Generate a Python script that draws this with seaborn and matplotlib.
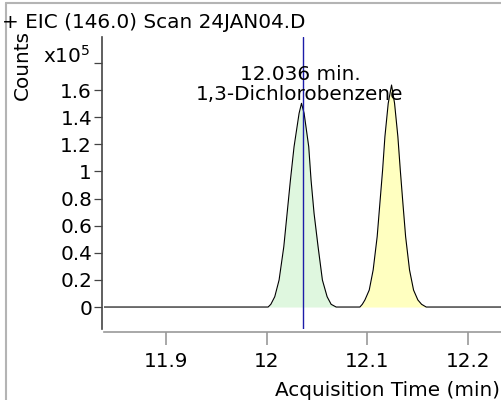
import numpy as np
import pandas as pd
import matplotlib
matplotlib.use('Agg')
import matplotlib.pyplot as plt
from matplotlib.lines import Line2D
import seaborn as sns

# Chromatogram trace (time in min, counts in x10^5)
green_time = [11.991, 12.0013, 12.004, 12.0079, 12.0122, 12.0169, 12.0202, 12.0235, 12.0271,
              12.0321, 12.0345, 12.0371, 12.0417, 12.0440, 12.0470, 12.0510, 12.0553,
              12.0600, 12.0640, 12.069, 12.080]
green_counts = [0, 0, 0.02, 0.076, 0.199, 0.445, 0.691, 0.937, 1.182,
                1.428, 1.502, 1.428, 1.182, 0.937, 0.691, 0.445, 0.199,
                0.076, 0.02, 0, 0]

yellow_time = [12.085, 12.0926, 12.095, 12.0976, 12.1019, 12.1058, 12.1098, 12.1125, 12.1152,
               12.1175, 12.1208, 12.1241, 12.1271, 12.1304, 12.1328, 12.1354, 12.1381,
               12.1420, 12.1460, 12.1503, 12.154, 12.1586, 12.169]
yellow_counts = [0, 0, 0.02, 0.052, 0.125, 0.273, 0.519, 0.765, 1.010,
                 1.256, 1.502, 1.637, 1.502, 1.256, 1.010, 0.765, 0.519,
                 0.273, 0.125, 0.052, 0.02, 0, 0]

trace_start = 11.838
trace_end = 12.234

marker_time = 12.036
label_time = "12.036 min."
compound = "1,3-Dichlorobenzene"

y_ticks = [0, 0.2, 0.4, 0.6, 0.8, 1.0, 1.2, 1.4, 1.6, 1.8]
y_labels = ['0', '0.2', '0.4', '0.6', '0.8', '1', '1.2', '1.4', '1.6', '']
x_ticks = [11.9, 12.0, 12.1, 12.2]
x_labels = ['11.9', '12', '12.1', '12.2']

trace = pd.DataFrame({
    'time': [trace_start] + green_time + yellow_time + [trace_end],
    'counts': [0] + green_counts + yellow_counts + [0],
})

sns.set_style('white')
plt.rcParams['font.family'] = ['DejaVu Sans']
plt.rcParams['font.size'] = 14.4
plt.rcParams['text.color'] = 'black'
plt.rcParams['xtick.labelcolor'] = 'black'
plt.rcParams['ytick.labelcolor'] = 'black'

W, H = 502, 400
fig = plt.figure(figsize=(W / 100, H / 100), dpi=100)
ax = fig.add_axes([104 / W, 1 - 329 / H, 398 / W, 292 / H])

ax.fill_between(green_time, green_counts, 0, color='#dff7df', lw=0)
ax.fill_between(yellow_time, yellow_counts, 0, color='#ffffc0', lw=0)
sns.lineplot(data=trace, x='time', y='counts', sort=False, estimator=None,
             color='black', lw=0.8, ax=ax)
ax.axvline(marker_time, color='#1c1ca8', lw=1)

ax.text(12.033, 1.676, label_time, ha='center', va='baseline')
ax.text(12.033, 1.529, compound, ha='center', va='baseline')

ax.set_xlim(trace_start, trace_end)
ax.set_ylim(-0.162, 1.991)
ax.set_xticks(x_ticks)
ax.set_xticklabels(x_labels)
ax.set_yticks(y_ticks)
ax.set_yticklabels(y_labels)
ax.set_xlabel('')
ax.set_ylabel('')

for side in ['top', 'right']:
    ax.spines[side].set_visible(False)
ax.spines['left'].set_position(('outward', 1.4))
ax.spines['bottom'].set_position(('outward', 2.4))
ax.spines['left'].set_color('#444444')
ax.spines['bottom'].set_color('#999999')
ax.spines['left'].set_linewidth(1.2)
ax.spines['bottom'].set_linewidth(1.2)
ax.tick_params(axis='y', direction='out', length=5.8, width=0.9, pad=1.4,
               color='#444444', labelcolor='black', left=True)
ax.tick_params(axis='x', direction='out', length=9.1, width=1.2, pad=5.4,
               color='#999999', labelcolor='black', bottom=True)

fig.text(2 / W, 1 - 28 / H, '+ EIC (146.0) Scan 24JAN04.D', ha='left', va='baseline')
fig.text(22 / W, 1 - 65 / H, 'Counts', rotation=90, ha='center', va='center')
fig.text(90 / W, 1 - 63 / H, 'x10$^5$', ha='right', va='baseline')
fig.text(500 / W, 1 - 396 / H, 'Acquisition Time (min)', ha='right', va='baseline')

# grey frame on the left and top edges
fig.add_artist(Line2D([6 / W, 6 / W], [0, 1 - 3 / H], color='#b4b4b4', lw=1.5))
fig.add_artist(Line2D([6 / W, 1], [1 - 3 / H, 1 - 3 / H], color='#b4b4b4', lw=1.5))

fig.savefig('out.png', dpi=100)
